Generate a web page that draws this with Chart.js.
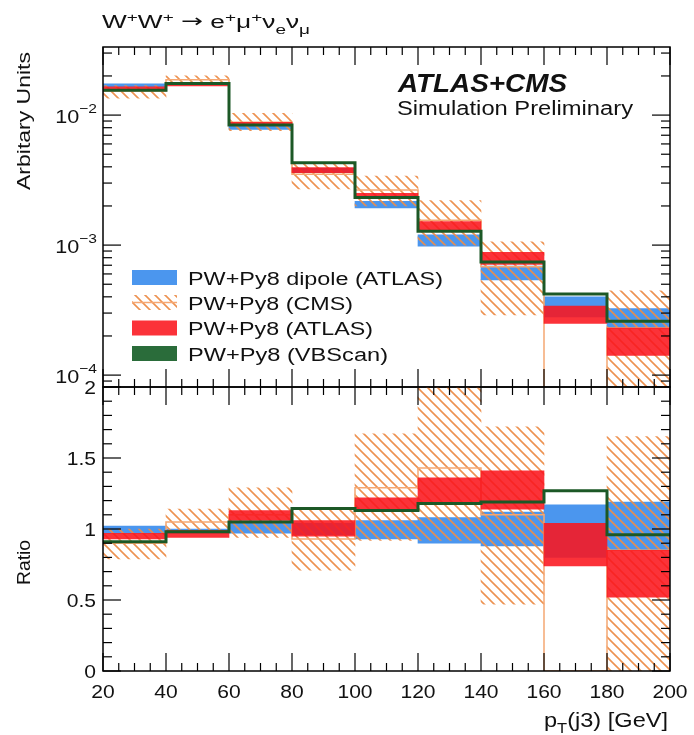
<!DOCTYPE html>
<html><head><meta charset="utf-8">
<script src="https://cdn.jsdelivr.net/npm/chart.js@4.4.1/dist/chart.umd.min.js"></script>
<style>
html,body{margin:0;padding:0;background:#fff;}
#wrap{position:relative;width:694px;height:735px;overflow:hidden;background:#fff;}
canvas{position:absolute;left:0;}
#c1{top:0;}
#c2{top:380px;}
</style></head><body>
<div id="wrap"><canvas id="c1" width="694" height="390"></canvas><canvas id="c2" width="694" height="355"></canvas></div>
<script>
// ---------------- data ----------------
const binEdges = [20, 40, 60, 80, 100, 120, 140, 160, 180, 200];
const xTickLabels = ['20', '40', '60', '80', '100', '120', '140', '160', '180', '200'];
const topTickExponents = [-2, -3, -4];
const ratioTickValues = [0, 0.5, 1, 1.5, 2];
const ratioTickLabels = ['0', '0.5', '1', '1.5', '2'];
const legendLabels = ['PW+Py8 dipole (ATLAS)', 'PW+Py8 (CMS)', 'PW+Py8 (ATLAS)', 'PW+Py8 (VBScan)'];

// upper panel: arbitrary units
const vbscan      = [1.55e-2, 1.75e-2, 8.4e-3, 4.3e-3, 2.32e-3, 1.28e-3, 7.4e-4, 4.2e-4, 2.6e-4];
const dipoleLo    = [1.65e-2, 1.73e-2, 7.75e-3, 3.6e-3, 1.93e-3, 9.8e-4, 5.4e-4, 2.8e-4, 2.3e-4];
const dipoleHi    = [1.74e-2, 1.79e-2, 8.3e-3, 3.9e-3, 2.17e-3, 1.2e-3, 6.9e-4, 4.0e-4, 3.25e-4];
const atlasLo     = [1.58e-2, 1.68e-2, 8.4e-3, 3.6e-3, 2.3e-3, 1.3e-3, 7.1e-4, 2.5e-4, 1.42e-4];
const atlasHi     = [1.65e-2, 1.77e-2, 8.8e-3, 3.95e-3, 2.5e-3, 1.52e-3, 8.8e-4, 3.4e-4, 2.3e-4];
const cmsLo       = [1.35e-2, 1.72e-2, 7.6e-3, 2.7e-3, 2.0e-3, 1.0e-3, 2.9e-4, null, 1e-5];
const cmsHi       = [1.69e-2, 2.0e-2, 1.03e-2, 4.2e-3, 3.4e-3, 2.2e-3, 1.06e-3, null, 4.45e-4];
const cmsCentral  = [1.53e-2, 1.87e-2, 8.8e-3, 3.5e-3, 2.65e-3, 1.55e-3, 6.8e-4, 1e-6, 2.3e-4];

// lower panel: ratio
const vbscanR     = [0.91, 0.98, 1.05, 1.145, 1.13, 1.18, 1.19, 1.27, 0.96];
const dipoleRLo   = [0.97, 0.97, 0.97, 0.96, 0.93, 0.90, 0.88, 0.80, 0.85];
const dipoleRHi   = [1.02, 1.00, 1.04, 1.04, 1.06, 1.08, 1.12, 1.17, 1.19];
const atlasRLo    = [0.93, 0.94, 1.06, 0.95, 1.13, 1.19, 1.14, 0.74, 0.52];
const atlasRHi    = [0.97, 0.99, 1.13, 1.06, 1.22, 1.36, 1.41, 1.04, 0.85];
const cmsRLo      = [0.79, 0.97, 0.94, 0.71, 0.92, 0.92, 0.47, null, 0];
const cmsRHi      = [1.0, 1.14, 1.29, 1.15, 1.67, 2.1, 1.72, null, 1.65];
const cmsRCentral = [0.9, 1.05, 1.1, 0.93, 1.29, 1.43, 1.1, 0, 0.85];

// ---------------- style ----------------
const FAM = '"Liberation Sans", Arial, Helvetica, sans-serif';
const BLUE = 'rgb(75,150,238)';
const RED = 'rgba(250,22,30,0.88)';
const GREEN = 'rgb(28,88,38)';
const GREEN_BOX = 'rgb(42,108,58)';
const HATCH = 'rgba(236,140,72,0.95)';
const CMS_LINE = 'rgb(245,168,115)';

function makeHatch(ctx) {
  const c = document.createElement('canvas'); c.width = 10; c.height = 10;
  const g = c.getContext('2d');
  g.strokeStyle = HATCH; g.lineWidth = 1.6;
  g.beginPath();
  g.moveTo(-2, -2); g.lineTo(12, 12);
  g.moveTo(-2, 8); g.lineTo(2, 12);
  g.moveTo(8, -2); g.lineTo(12, 2);
  g.stroke();
  return ctx.createPattern(c, 'repeat');
}

function bandData(lo, hi) {
  return lo.map((l, i) => ({x: (binEdges[i] + binEdges[i + 1]) / 2, y: [l, hi[i]]}))
           .filter(d => d.y[0] !== null && d.y[1] !== null);
}
function stepData(vals) {
  const pts = vals.map((v, i) => ({x: binEdges[i], y: v}));
  pts.push({x: binEdges[binEdges.length - 1], y: vals[vals.length - 1]});
  return pts;
}
function band(data, color, order) {
  return {type: 'bar', data, backgroundColor: color, borderWidth: 0, grouped: false,
          barPercentage: 1, categoryPercentage: 1, order};
}
function stepLine(data, color, width, order) {
  return {type: 'line', data, borderColor: color, borderWidth: width, stepped: 'before',
          pointRadius: 0, fill: false, order, tension: 0};
}

// ---------------- text helpers ----------------
function rich(ctx, parts, x, y, o) {
  const size = o.size;
  const fontFor = p => {
    const s = (p.m === 'sup' || p.m === 'sub') ? Math.round(size * (o.small || 0.7)) : size;
    return `${o.style || ''} ${o.weight || ''} ${s}px ${p.fam || FAM}`;
  };
  ctx.save();
  let w = 0;
  const ws = parts.map(p => { ctx.font = fontFor(p); const m = ctx.measureText(p.t).width; w += m; return m; });
  const sx = o.fit ? o.fit / w : (o.sx || 1);
  const total = w * sx;
  ctx.translate(x, y);
  if (o.rot) ctx.rotate(o.rot);
  const start = o.align === 'right' ? -total : o.align === 'center' ? -total / 2 : 0;
  ctx.translate(start, 0);
  ctx.scale(sx, 1);
  ctx.fillStyle = o.color || '#111';
  ctx.textBaseline = 'alphabetic';
  let cx = 0;
  parts.forEach((p, i) => {
    ctx.font = fontFor(p);
    const dy = p.m === 'sup' ? -size * (o.supDy || 0.38) : p.m === 'sub' ? size * (o.subDy || 0.3) : (p.dy || 0);
    ctx.fillText(p.t, cx, dy);
    cx += ws[i];
  });
  ctx.restore();
}
function text(ctx, s, x, y, o) { rich(ctx, [{t: s}], x, y, o); }

function seg(ctx, x1, y1, x2, y2) { ctx.beginPath(); ctx.moveTo(x1, y1); ctx.lineTo(x2, y2); ctx.stroke(); }

function drawXTicks(ctx, xs, a) {
  ctx.strokeStyle = '#000'; ctx.lineWidth = 1.2;
  for (let v = binEdges[0]; v <= binEdges[binEdges.length - 1]; v += 5) {
    const px = xs.getPixelForValue(v);
    const len = (v % 20 === 0) ? 18 : 8;
    seg(ctx, px, a.top, px, a.top + len);
    seg(ctx, px, a.bottom, px, a.bottom - len);
  }
}
function drawFrame(ctx, a) {
  ctx.strokeStyle = '#000'; ctx.lineWidth = 1.5;
  ctx.strokeRect(a.left, a.top, a.right - a.left, a.bottom - a.top);
}

// ---------------- upper panel ----------------
const ctx1 = document.getElementById('c1').getContext('2d');
const hatch1 = makeHatch(ctx1);

const topOverlay = {
  id: 'topOverlay',
  afterDatasetsDraw(chart) {
    const {ctx, chartArea: a, scales: {x, y}} = chart;
    ctx.save();
    drawXTicks(ctx, x, a);
    ctx.strokeStyle = '#000'; ctx.lineWidth = 1.2;
    for (let k = -5; k <= -1; k++) {
      for (let m = 1; m <= 9; m++) {
        const v = m * Math.pow(10, k);
        if (v < y.min || v > y.max) continue;
        const py = y.getPixelForValue(v);
        const len = m === 1 ? 18 : 9;
        seg(ctx, a.left, py, a.left + len, py);
        seg(ctx, a.right, py, a.right - len, py);
      }
    }
    drawFrame(ctx, a);
    topTickExponents.forEach(e => {
      const py = y.getPixelForValue(Math.pow(10, e));
      rich(ctx, [{t: '10'}, {t: '\u2212' + Math.abs(e), m: 'sup'}], 97, py + 8,
           {size: 18, sx: 1.2, align: 'right', small: 0.72, supDy: 0.55});
    });
    rich(ctx, [{t: 'W'}, {t: '+', m: 'sup'}, {t: 'W'}, {t: '+', m: 'sup'}, {t: ' '},
               {t: '\u2192', fam: '"DejaVu Sans", sans-serif', dy: -1}, {t: ' '},
               {t: 'e'}, {t: '+', m: 'sup'}, {t: '\u03bc'}, {t: '+', m: 'sup'},
               {t: '\u03bd'}, {t: 'e', m: 'sub'}, {t: '\u03bd'}, {t: '\u03bc', m: 'sub'}],
         102, 28, {size: 18, fit: 208, supDy: 0.33, subDy: 0.33});
    text(ctx, 'Arbitary Units', 30, 190, {size: 19, fit: 138, rot: -Math.PI / 2});
    text(ctx, 'ATLAS+CMS', 398, 92, {size: 25, weight: 'bold', style: 'italic', fit: 169});
    text(ctx, 'Simulation Preliminary', 397, 115, {size: 20, fit: 236});
    const rows = [277.5, 302.5, 328, 353.5];
    const fits = [255, 165, 185, 200];
    const bx = 132, bw = 45, bh = 15;
    rows.forEach((cy, i) => {
      const top = cy - bh / 2;
      if (i === 0) { ctx.fillStyle = BLUE; ctx.fillRect(bx, top, bw, bh); }
      if (i === 1) {
        ctx.fillStyle = hatch1; ctx.fillRect(bx, top, bw, bh);
        ctx.strokeStyle = CMS_LINE; ctx.lineWidth = 1.5; seg(ctx, bx, cy, bx + bw, cy);
      }
      if (i === 2) { ctx.fillStyle = RED; ctx.fillRect(bx, top, bw, bh); }
      if (i === 3) { ctx.fillStyle = GREEN_BOX; ctx.fillRect(bx, top, bw, bh); }
      text(ctx, legendLabels[i], 188, cy + 7, {size: 18, fit: fits[i]});
    });
    ctx.restore();
  }
};

new Chart(ctx1, {
  data: {
    datasets: [
      stepLine(stepData(vbscan), GREEN, 3, 0),
      band(bandData(atlasLo, atlasHi), RED, 1),
      stepLine(stepData(cmsCentral), CMS_LINE, 1.5, 2),
      band(bandData(cmsLo, cmsHi), hatch1, 3),
      band(bandData(dipoleLo, dipoleHi), BLUE, 4)
    ]
  },
  options: {
    responsive: false, animation: false, events: [],
    layout: {padding: {left: 103, right: 24, top: 47, bottom: 3}},
    plugins: {legend: {display: false}, title: {display: false}, tooltip: {enabled: false}},
    scales: {
      x: {type: 'linear', min: 20, max: 200, offset: false, display: false, ticks: {stepSize: 20}, grid: {offset: false}},
      y: {type: 'logarithmic', min: 8.1e-5, max: 3.34e-2, display: false}
    }
  },
  plugins: [topOverlay]
});

// ---------------- lower panel ----------------
const ctx2 = document.getElementById('c2').getContext('2d');
const hatch2 = makeHatch(ctx2);

const bottomOverlay = {
  id: 'bottomOverlay',
  afterDatasetsDraw(chart) {
    const {ctx, chartArea: a, scales: {x, y}} = chart;
    ctx.save();
    drawXTicks(ctx, x, a);
    ctx.strokeStyle = '#000'; ctx.lineWidth = 1.2;
    for (let i = 0; i <= 20; i++) {
      const v = i / 10;
      const py = y.getPixelForValue(v);
      const len = (i % 5 === 0) ? 18 : 9;
      seg(ctx, a.left, py, a.left + len, py);
      seg(ctx, a.right, py, a.right - len, py);
    }
    drawFrame(ctx, a);
    ratioTickValues.forEach((v, i) => {
      text(ctx, ratioTickLabels[i], 96, y.getPixelForValue(v) + 6.5, {size: 18, sx: 1.17, align: 'right'});
    });
    binEdges.forEach((v, i) => {
      text(ctx, xTickLabels[i], x.getPixelForValue(v), a.bottom + 27, {size: 18, sx: 1.17, align: 'center'});
    });
    text(ctx, 'Ratio', 30, 585 - 380, {size: 19, fit: 45, rot: -Math.PI / 2});
    rich(ctx, [{t: 'p'}, {t: 'T', m: 'sub'}, {t: '(j3) [GeV]'}], 668, 727 - 380,
         {size: 20, fit: 124, align: 'right', subDy: 0.3});
    ctx.restore();
  }
};

new Chart(ctx2, {
  data: {
    datasets: [
      stepLine(stepData(vbscanR), GREEN, 3, 0),
      band(bandData(atlasRLo, atlasRHi), RED, 1),
      stepLine(stepData(cmsRCentral), CMS_LINE, 1.5, 2),
      band(bandData(cmsRLo, cmsRHi), hatch2, 3),
      band(bandData(dipoleRLo, dipoleRHi), BLUE, 4)
    ]
  },
  options: {
    responsive: false, animation: false, events: [],
    layout: {padding: {left: 103, right: 24, top: 7, bottom: 64}},
    plugins: {legend: {display: false}, title: {display: false}, tooltip: {enabled: false}},
    scales: {
      x: {type: 'linear', min: 20, max: 200, offset: false, display: false, ticks: {stepSize: 20}, grid: {offset: false}},
      y: {type: 'linear', min: 0, max: 2, display: false}
    }
  },
  plugins: [bottomOverlay]
});
</script>
</body></html>
